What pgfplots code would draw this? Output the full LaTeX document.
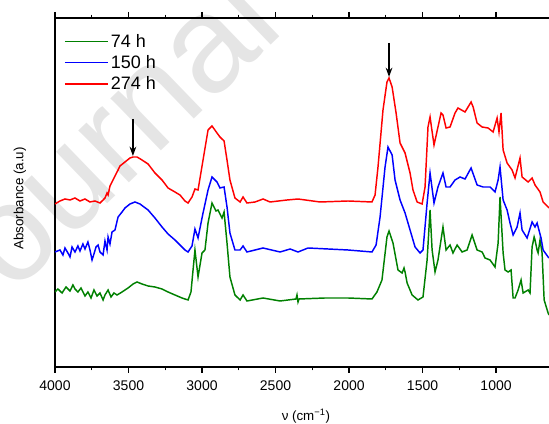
\documentclass[border=0pt]{standalone}
\usepackage{pgfplots}
\pgfplotsset{compat=1.18}
\usepackage{pgfplotstable}
\usepackage{fontspec}
\setmainfont{Liberation Sans}
\usetikzlibrary{arrows.meta,backgrounds,calc}

\definecolor{c74}{RGB}{0,128,0}
\definecolor{c150}{RGB}{0,0,255}
\definecolor{c274}{RGB}{255,0,0}

% FTIR spectra, wavenumber (cm^-1) vs. offset absorbance (arbitrary units)
\pgfplotstableread{
wn    a
4000  75
3980  78
3952  74
3925  80
3898  76
3878  82
3864  78
3844  75
3823  79
3796  71
3776  75
3755  69
3735  77
3714  71
3694  74
3673  67
3660  72
3639  77
3619  70
3599  74
3578  72
3544  75
3503  79
3469  83
3442  85
3408  83
3367  81
3320  80
3272  78
3231  75
3184  72
3136  69
3095  67
3075  75
3061  97
3048  117
3027  90
3000  114
2980  117
2959  144
2932  164
2905  156
2891  157
2864  149
2850  155
2830  124
2810  90
2776  72
2741  67
2721  72
2694  66
2585  69
2469  66
2361  68
2354  72
2347  65
2340  68
2163  69
2007  69
1844  68
1810  75
1776  87
1742  130
1728  136
1701  124
1667  97
1639  94
1626  99
1619  95
1605  84
1571  72
1531  67
1497  70
1469  107
1449  157
1435  117
1415  95
1395  107
1361  140
1340  117
1313  122
1293  114
1265  122
1231  115
1197  117
1163  132
1129  117
1095  115
1075  109
1041  107
1007  100
986   124
973   170
952   114
939   97
918   95
898   97
884   69
871   69
850   77
830   87
816   74
782   77
769   74
755   120
741   130
735   127
721   117
714   114
701   127
687   114
673   67
646   54
640   52
}\tablegreen

\pgfplotstableread{
wn    a
4000  115
3966  117
3946  112
3932  119
3912  114
3898  110
3884  120
3864  115
3844  121
3830  116
3810  123
3796  118
3776  125
3762  117
3748  107
3735  113
3721  120
3707  122
3694  115
3673  112
3660  126
3646  117
3639  130
3626  123
3612  135
3592  137
3571  150
3544  155
3524  159
3490  163
3456  165
3422  163
3367  157
3320  149
3272  140
3231  133
3184  127
3150  122
3116  117
3095  115
3068  121
3048  138
3027  129
2993  154
2959  177
2932  190
2898  185
2878  179
2850  180
2830  160
2810  134
2776  117
2741  117
2721  121
2694  115
2585  119
2469  115
2401  118
2347  115
2279  119
2007  117
1844  115
1816  122
1789  150
1755  200
1735  220
1707  212
1687  187
1653  167
1619  154
1585  137
1551  120
1517  114
1497  117
1469  164
1449  194
1422  164
1395  180
1361  194
1340  180
1313  180
1279  187
1245  190
1211  188
1170  199
1129  182
1088  180
1041  180
1007  175
986   187
973   200
952   167
925   157
905   144
884   132
857   140
837   154
823   137
789   129
755   145
735   140
721   144
694   129
680   117
646   110
640   109
}\tableblue

\pgfplotstableread{
wn    a
4000  163
3966  166
3932  168
3898  167
3864  169
3830  166
3796  168
3762  165
3728  166
3694  164
3673  167
3660  169
3646  174
3639  172
3626  181
3592  191
3571  197
3558  201
3524  205
3490  209
3469  210
3442  210
3408  207
3367  203
3320  194
3272  187
3231  179
3184  175
3150  172
3116  166
3095  164
3068  170
3048  178
3027  177
2993  207
2959  237
2932  241
2898  234
2878  230
2850  226
2830  207
2810  187
2776  169
2741  165
2721  170
2694  164
2639  165
2585  168
2537  165
2422  167
2347  168
2197  165
2007  166
1844  165
1823  172
1803  200
1769  257
1742  285
1728  289
1707  280
1680  254
1653  224
1619  214
1585  194
1565  177
1537  165
1503  163
1483  180
1463  240
1449  250
1422  222
1395  240
1374  254
1361  252
1340  239
1313  240
1279  254
1259  259
1211  255
1170  265
1156  260
1129  244
1095  240
1054  239
1020  235
993   249
980   235
966   254
952   217
925   204
891   197
871   189
837   209
823   190
782   185
755   189
735   182
701   175
680   165
646   160
640   159
}\tablered

\begin{document}
\begin{tikzpicture}
\begin{axis}[
  name=ax,
  scale only axis,
  width=370.5pt, height=261.75pt,
  x dir=reverse,
  xmin=640, xmax=4000,
  ymin=0, ymax=349,
  axis x line*=box,
  axis y line*=left,
  axis line style={line width=0.9pt, black},
  xtick={1000,1500,...,4000},
  minor x tick num=1,
  ytick=\empty,
  tick align=outside,
  major tick length=4.5pt,
  minor tick length=2.5pt,
  every tick/.style={black, line width=0.9pt},
  tick label style={font=\fontsize{10.5}{12}\selectfont},
  xticklabel style={yshift=-2pt},
  /pgf/number format/assume math mode=true,
  /pgf/number format/set thousands separator={},
  xlabel={ν (cm\textsuperscript{−1})},
  ylabel={Absorbance (a.u)},
  label style={font=\fontsize{14}{16}\selectfont},
  every axis x label/.style={at={(axis description cs:0.508,-0.14)}, anchor=center},
  every axis y label/.style={at={(axis description cs:-0.0709,0.483)}, rotate=90, anchor=center},
  legend cell align=left,
  legend style={draw=none, fill=none, at={(axis description cs:0.018,0.962)}, anchor=north west,
    font=\fontsize{13.5}{15}\selectfont, row sep=0.5pt, inner sep=0pt},
  legend image code/.code={\draw[#1, line width=1.1pt] (0pt,0pt) -- (32pt,0pt);},
  clip=true,
]
\addplot[c74, line width=1.1pt] table[x=wn, y=a] {\tablegreen};
\addlegendentry{74 h}
\addplot[c150, line width=1.1pt] table[x=wn, y=a] {\tableblue};
\addlegendentry{150 h}
\addplot[c274, line width=1.1pt] table[x=wn, y=a] {\tablered};
\addlegendentry{274 h}

% marker arrows over the O-H and C=O bands
\draw[line width=1.1pt, -{Stealth[length=7pt, width=5pt]}] (axis cs:3470,248) -- (axis cs:3470,211);
\draw[line width=1.1pt, -{Stealth[length=7pt, width=5pt]}] (axis cs:1728,324) -- (axis cs:1728,290);
\end{axis}

\begin{scope}[on background layer]
  \node[rotate=44, anchor=west, inner sep=0pt, text=black!10,
        font=\fontsize{103}{108}\selectfont]
    at ($(ax.south west)+(-87.8pt,36.8pt)$) {Journal Pre-proof};
\end{scope}

\pgfresetboundingbox
\path (ax.south west) ++(-41.25pt,-42.75pt) rectangle ($(ax.north east)+(0pt,13.5pt)$);
\end{tikzpicture}
\end{document}
